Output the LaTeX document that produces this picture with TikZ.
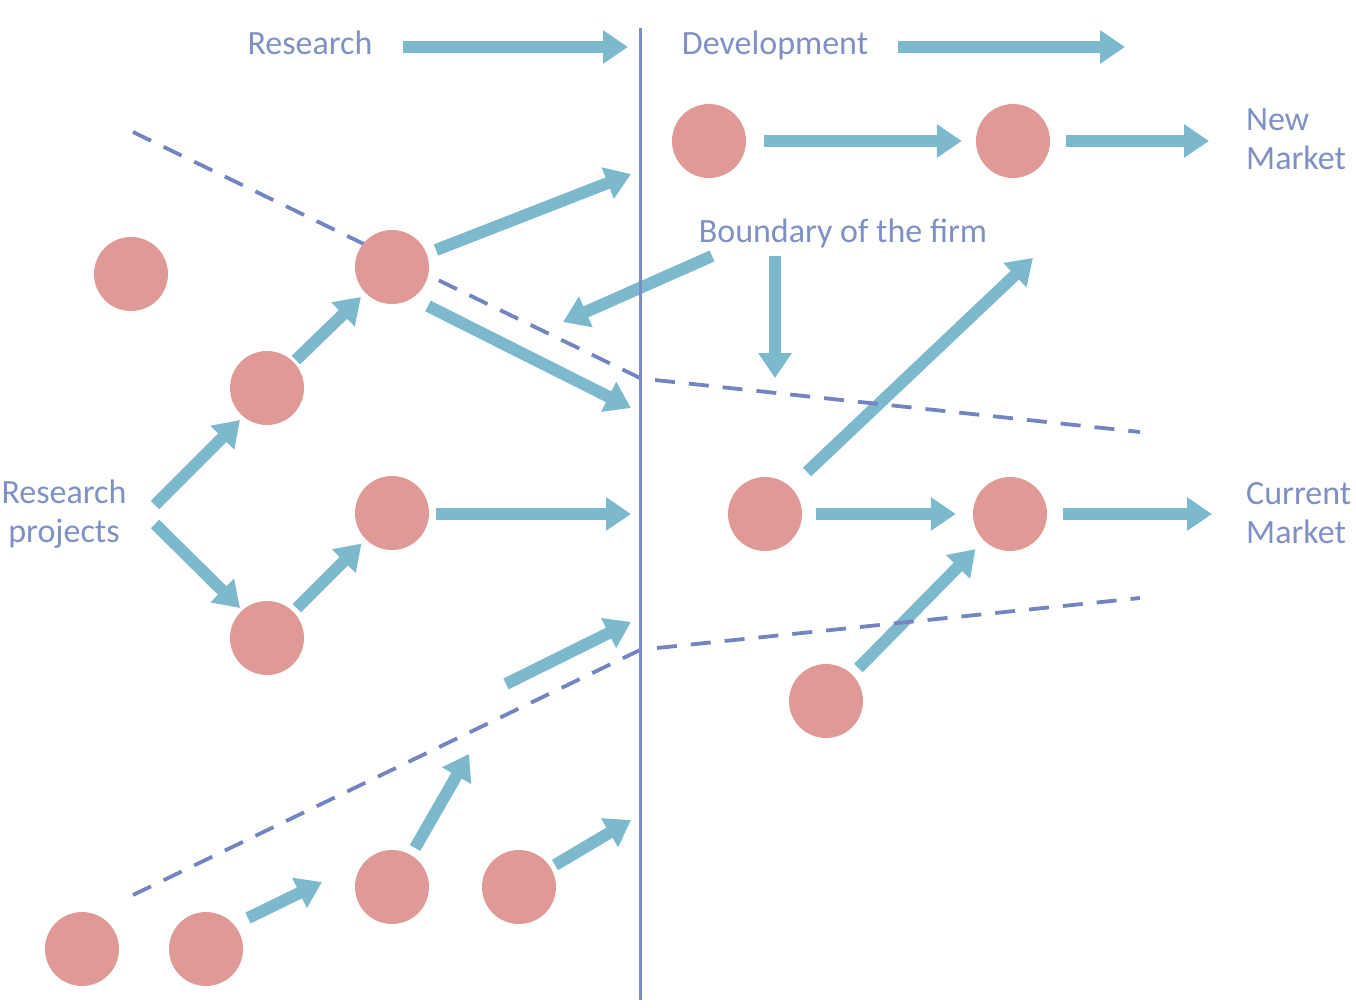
\documentclass[tikz,border=0pt]{standalone}
\usepackage{fontspec}
\setmainfont{Carlito}
\usetikzlibrary{arrows.meta}
\definecolor{txtc}{HTML}{7F90C4}
\definecolor{arrc}{HTML}{7DB9CC}
\definecolor{dotc}{HTML}{DF9997}
\definecolor{linec}{HTML}{7D8DC4}
\definecolor{dashc}{HTML}{7384C0}
\begin{document}
\begin{tikzpicture}[x=1pt,y=-1pt,
  dotnode/.style={circle,minimum size=74pt,inner sep=0pt},
  arr/.style={draw=arrc,line width=12pt,-{Triangle[length=25pt,width=32pt]}},
  lbl/.style={text=txtc,font=\fontsize{34}{39}\selectfont,inner sep=0pt},
  bnd/.style={draw=dashc,line width=3.8pt,dash pattern=on 20pt off 14pt}]
\useasboundingbox (0,0) rectangle (1356,1008);

% circles (positions)
\path (709,141) coordinate (pA) (1013,141) coordinate (pB) (131,274) coordinate (pC)
      (392,267) coordinate (pD) (267,388) coordinate (pE) (392,513) coordinate (pF)
      (267,638) coordinate (pG) (765,514) coordinate (pH) (1010,514) coordinate (pI)
      (826,701) coordinate (pJ) (82,949) coordinate (pK) (206,949) coordinate (pL)
      (392,887) coordinate (pM) (519,887) coordinate (pN);

% labels
\node[lbl,anchor=base] (research) at (310,55) {Research};
\node[lbl,anchor=base] (development) at (775,55) {Development};
\node[lbl,anchor=base] (boundary) at (843,243) {Boundary of the firm};
\node[lbl,anchor=west,align=left] (newmarket) at (1246,139) {New\\Market};
\node[lbl,anchor=west,align=left] (curmarket) at (1246,513) {Current\\Market};
\node[lbl,align=center] (projects) at (64,514) {Research\\projects};

% circle nodes (named; filled later above the dashes)
\foreach \n in {A,B,C,D,E,F,G,H,I,J,K,L,M,N} {\node[dotnode] (\n) at (p\n) {};}

% arrow end points
\coordinate (r1) at (403,47);  \coordinate (r2) at (628,47);
\coordinate (d1) at (898,47);  \coordinate (d2) at (1125,47);
\coordinate (b1) at (1066,141); \coordinate (b2) at (1209,141);
\coordinate (x1) at (436,250); \coordinate (x2) at (631,174);
\coordinate (y1) at (428,306); \coordinate (y2) at (631,408);
\coordinate (f1) at (712,256); \coordinate (f2) at (563,322);
\coordinate (g1) at (775,256); \coordinate (g2) at (775,378);
\coordinate (h1) at (807,472); \coordinate (h2) at (1033,258);
\coordinate (p1) at (155,505); \coordinate (p2) at (240,420);
\coordinate (q1) at (155,524); \coordinate (q2) at (240,608);
\coordinate (m1) at (436,514); \coordinate (m2) at (631,514);
\coordinate (i1) at (1063,514); \coordinate (i2) at (1212,514);
\coordinate (u1) at (506,684); \coordinate (u2) at (631,622);
\coordinate (l1) at (248,918); \coordinate (l2) at (322,882);
\coordinate (v1) at (415,848); \coordinate (v2) at (469,754);
\coordinate (w1) at (555,865); \coordinate (w2) at (631,820);

% arrows
\draw[arr] (r1) -- (r2);
\draw[arr] (d1) -- (d2);
\draw[arr,shorten <=18pt,shorten >=14pt] (A) -- (B);
\draw[arr] (b1) -- (b2);
\draw[arr] (x1) -- (x2);
\draw[arr] (y1) -- (y2);
\draw[arr] (f1) -- (f2);
\draw[arr] (g1) -- (g2);
\draw[arr] (h1) -- (h2);
\draw[arr] (p1) -- (p2);
\draw[arr,shorten <=3pt,shorten >=6pt] (E) -- (D);
\draw[arr] (q1) -- (q2);
\draw[arr,shorten <=5pt,shorten >=6pt] (G) -- (F);
\draw[arr] (m1) -- (m2);
\draw[arr,shorten <=14pt,shorten >=17pt] (H) -- (I);
\draw[arr] (i1) -- (i2);
\draw[arr,shorten <=9pt,shorten >=12pt] (J) -- (I);
\draw[arr] (u1) -- (u2);
\draw[arr] (l1) -- (l2);
\draw[arr] (v1) -- (v2);
\draw[arr] (w1) -- (w2);

% boundary dashed lines
\coordinate (ua) at (133,132); \coordinate (ub) at (640,378);
\coordinate (uc) at (655,380); \coordinate (ud) at (1140,432);
\coordinate (la) at (133,895); \coordinate (lb) at (640,650);
\coordinate (lc) at (657,648); \coordinate (ld) at (1140,598);
\draw[bnd] (ua) -- (ub);
\draw[bnd] (uc) -- (ud);
\draw[bnd] (la) -- (lb);
\draw[bnd] (lc) -- (ld);

% circles on top of dashes
\foreach \n in {A,B,C,D,E,F,G,H,I,J,K,L,M,N} {\fill[dotc] (\n) circle (37pt);}

% divider
\coordinate (vt) at (640,28); \coordinate (vb) at (640,1000);
\draw[linec,line width=3pt] (vt) -- (vb);
\end{tikzpicture}
\end{document}
